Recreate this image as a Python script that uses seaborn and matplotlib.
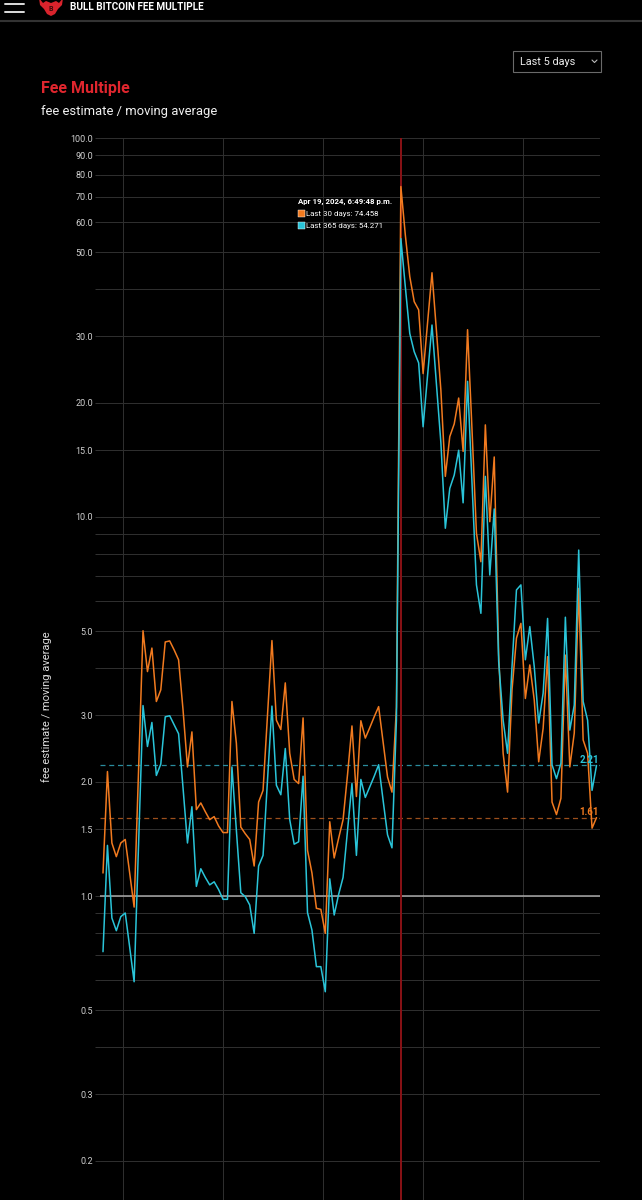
import matplotlib
matplotlib.use("Agg")
import matplotlib.pyplot as plt
import numpy as np
import pandas as pd
import seaborn as sns
from matplotlib.patches import Rectangle, Polygon
from matplotlib.lines import Line2D
from matplotlib.ticker import NullLocator

# ---------------- data ----------------
series_names = ["Last 30 days", "Last 365 days"]
last30 = [1.15, 2.13, 1.38, 1.27, 1.38, 1.41, 1.15, 0.935, 2.15, 5.01,
          3.91, 4.51, 3.26, 3.50, 4.68, 4.71, 4.46, 4.20, 3.10, 2.19,
          2.71, 1.69, 1.76, 1.67, 1.59, 1.62, 1.53, 1.47, 1.47, 3.26,
          2.53, 1.52, 1.46, 1.41, 1.20, 1.77, 1.90, 3.00, 4.72, 2.91,
          2.75, 3.65, 2.38, 2.03, 1.98, 2.95, 1.32, 1.15, 0.928, 0.922,
          0.797, 1.57, 1.26, 1.42, 1.59, 2.09, 2.81, 1.83, 2.90, 2.61,
          2.78, 2.97, 3.16, 2.55, 2.06, 1.88, 3.15, 74.458, 55.5, 43.1,
          37.0, 35.2, 23.9, 32.5, 44.1, 31.0, 21.6, 12.8, 16.3, 17.6,
          20.6, 14.9, 31.2, 17.0, 9.06, 7.62, 17.5, 9.72, 14.4, 4.32,
          2.38, 1.88, 3.50, 4.79, 5.24, 3.32, 4.07, 3.29, 2.26, 2.77,
          4.28, 1.77, 1.64, 1.81, 4.32, 2.19, 2.69, 6.48, 2.58, 2.38,
          1.51, 1.61]
last365 = [0.713, 1.36, 0.875, 0.810, 0.882, 0.902, 0.733, 0.594, 1.37, 3.18,
           2.48, 2.87, 2.08, 2.23, 2.97, 2.99, 2.83, 2.68, 1.93, 1.38,
           1.72, 1.06, 1.18, 1.12, 1.07, 1.09, 1.04, 0.980, 0.980, 2.19,
           1.49, 1.02, 0.996, 0.947, 0.797, 1.20, 1.28, 2.02, 3.17, 1.96,
           1.85, 2.45, 1.59, 1.37, 1.39, 2.07, 0.904, 0.813, 0.651, 0.651,
           0.559, 1.11, 0.891, 1.01, 1.12, 1.49, 1.98, 1.28, 2.03, 1.82,
           1.94, 2.07, 2.22, 1.79, 1.45, 1.34, 2.91, 54.271, 40.5, 30.5,
           27.3, 25.5, 17.3, 23.6, 32.1, 22.4, 15.7, 9.34, 11.9, 12.9,
           15.0, 10.9, 22.8, 12.3, 6.62, 5.57, 12.8, 7.03, 10.5, 4.15,
           2.91, 2.38, 4.03, 6.42, 6.62, 4.20, 5.14, 4.03, 2.86, 3.43,
           5.40, 2.22, 2.04, 2.24, 5.44, 2.74, 3.19, 8.18, 3.26, 2.91,
           1.90, 2.21]
hover_index = 67
hover_label = "Apr 19, 2024, 6:49:48 p.m."
ytick_values = [0.1, 0.15, 0.2, 0.3, 0.4, 0.5, 0.6, 0.7, 0.8, 0.9, 1.0, 1.5, 2, 3, 4, 5,
                6, 7, 8, 9, 10, 15, 20, 30, 40, 50, 60, 70, 80, 90, 100]
ytick_labelled = [0.2, 0.3, 0.5, 1.0, 1.5, 2, 3, 5, 10, 15, 20, 30, 50, 60, 70, 80, 90, 100]
day_ticks = [4.5, 26.99, 49.48, 71.97, 94.47]

ORANGE = "#f17a1f"
CYAN = "#2ac4d8"

# ---------------- figure ----------------
W, H = 642, 1200
sns.set_theme(style="dark", rc={"axes.facecolor": "black", "figure.facecolor": "black"})
plt.rcParams["font.family"] = ["Roboto", "DejaVu Sans"]

fig = plt.figure(figsize=(W / 100, H / 100), dpi=100)
fig.patch.set_facecolor("black")


def fx(x):
    return x / W


def fy(y):
    return 1 - y / H


# axes spans 100..600 px horizontally, 138..1275 px vertically (crop cuts the bottom)
ax = fig.add_axes([fx(100), fy(1275), 500 / W, 1137 / H])
ax.set_facecolor("black")

n = len(last30)
df = pd.DataFrame({"idx": np.arange(n), series_names[0]: last30, series_names[1]: last365})
long = df.melt(id_vars="idx", var_name="series", value_name="value")
sns.lineplot(data=long, x="idx", y="value", hue="series",
             palette={series_names[0]: ORANGE, series_names[1]: CYAN},
             linewidth=1.1, legend=False, ax=ax, zorder=3)

ax.set_yscale("log")
ax.set_ylim(0.1, 100)
ax.set_xlim(-0.675, 111.79)

ax.set_yticks(ytick_values)
ax.set_yticklabels([f"{v:.1f}" if v in ytick_labelled else "" for v in ytick_values])
ax.yaxis.set_minor_locator(NullLocator())
ax.set_xticks(day_ticks)
ax.xaxis.set_minor_locator(NullLocator())
ax.tick_params(axis="y", which="major", length=3.6, width=0.7, color="#333333",
               labelcolor="#d0d0d0", labelsize=6.5, pad=1.5, left=True)
ax.tick_params(axis="x", length=0, labelbottom=False)
ax.grid(True, axis="both", color="#2e2e2e", linewidth=0.75)
for s in ax.spines.values():
    s.set_visible(False)

ax.set_xlabel("")
ax.set_ylabel("fee estimate / moving average", color="#dddddd", fontsize=8)
ax.yaxis.set_label_coords(-0.096, 0.5)

# baseline at 1.0
ax.axhline(1.0, color="#a8a8a8", lw=1.1, zorder=2)

# current values dashed
cur30 = last30[-1]
cur365 = last365[-1]
ax.axhline(cur365, color="#2a8c9e", lw=0.9, ls=(0, (4, 3)), zorder=2)
ax.axhline(cur30, color="#9c4f1c", lw=0.9, ls=(0, (4, 3)), zorder=2)
fig.text(fx(599), fy(763), f"{cur365:.2f}", color=CYAN, fontsize=7, fontweight="bold",
         ha="right", va="baseline")
fig.text(fx(599), fy(815), f"{cur30:.2f}", color=ORANGE, fontsize=7, fontweight="bold",
         ha="right", va="baseline")

# hover crosshair
ax.axvline(hover_index, color="#8a1216", lw=1.4, zorder=2.5)

# tooltip
fig.text(fx(298), fy(204), hover_label, color="white", fontsize=5.7, fontweight="bold",
         va="baseline")
for k, (name, vals, col) in enumerate([(series_names[0], last30, ORANGE),
                                       (series_names[1], last365, CYAN)]):
    yy = 216 + k * 12
    fig.patches.append(Rectangle((fx(298), fy(yy + 1)), 7 / W, 7 / H,
                                 transform=fig.transFigure, facecolor=col, edgecolor="white",
                                 linewidth=0.3))
    fig.text(fx(306.5), fy(yy), f"{name}: {vals[hover_index]:.3f}", color="white",
             fontsize=5.7, va="baseline")

# ---------------- page header ----------------
fig.add_artist(Line2D([0, 1], [fy(21), fy(21)], transform=fig.transFigure,
                      color="#333333", lw=1.5))
for yy in (4, 12):
    fig.add_artist(Line2D([fx(5), fx(24)], [fy(yy), fy(yy)], transform=fig.transFigure,
                          color="#dddddd", lw=1.4))
logo = [(39, -2), (43, 3), (46, 1), (51, 3), (56, 1), (59, 3), (63, -2), (62, 5),
        (58, 9), (55, 14), (51, 16), (47, 14), (44, 9), (40, 5)]
fig.patches.append(Polygon([(fx(a), fy(b)) for a, b in logo], closed=True,
                           transform=fig.transFigure, facecolor="#d9232c", edgecolor="none"))
fig.text(fx(51), fy(11), "B", color="#3a0a0a", fontsize=5, fontweight="bold", ha="center",
         va="baseline")
fig.text(fx(70), fy(10), "BULL BITCOIN FEE MULTIPLE", color="white", fontsize=7.2,
         fontweight="bold", fontstretch="condensed", va="baseline")

# dropdown
fig.patches.append(Rectangle((fx(513), fy(72)), 88 / W, 21 / H, transform=fig.transFigure,
                             facecolor="black", edgecolor="#6a6a6a", linewidth=0.8))
fig.text(fx(520), fy(65), "Last 5 days", color="#eeeeee", fontsize=7.8, va="baseline")
fig.add_artist(Line2D([fx(592), fx(594.5), fx(597)], [fy(60), fy(62.5), fy(60)],
                      transform=fig.transFigure, color="#bbbbbb", lw=0.8))

# titles
fig.text(fx(41), fy(93), "Fee Multiple", color="#e0262e", fontsize=11.5, fontweight="bold",
         va="baseline")
fig.text(fx(41), fy(115), "fee estimate / moving average", color="#f0f0f0", fontsize=9.4,
         va="baseline")

fig.savefig("out.png", dpi=100, facecolor="black")
